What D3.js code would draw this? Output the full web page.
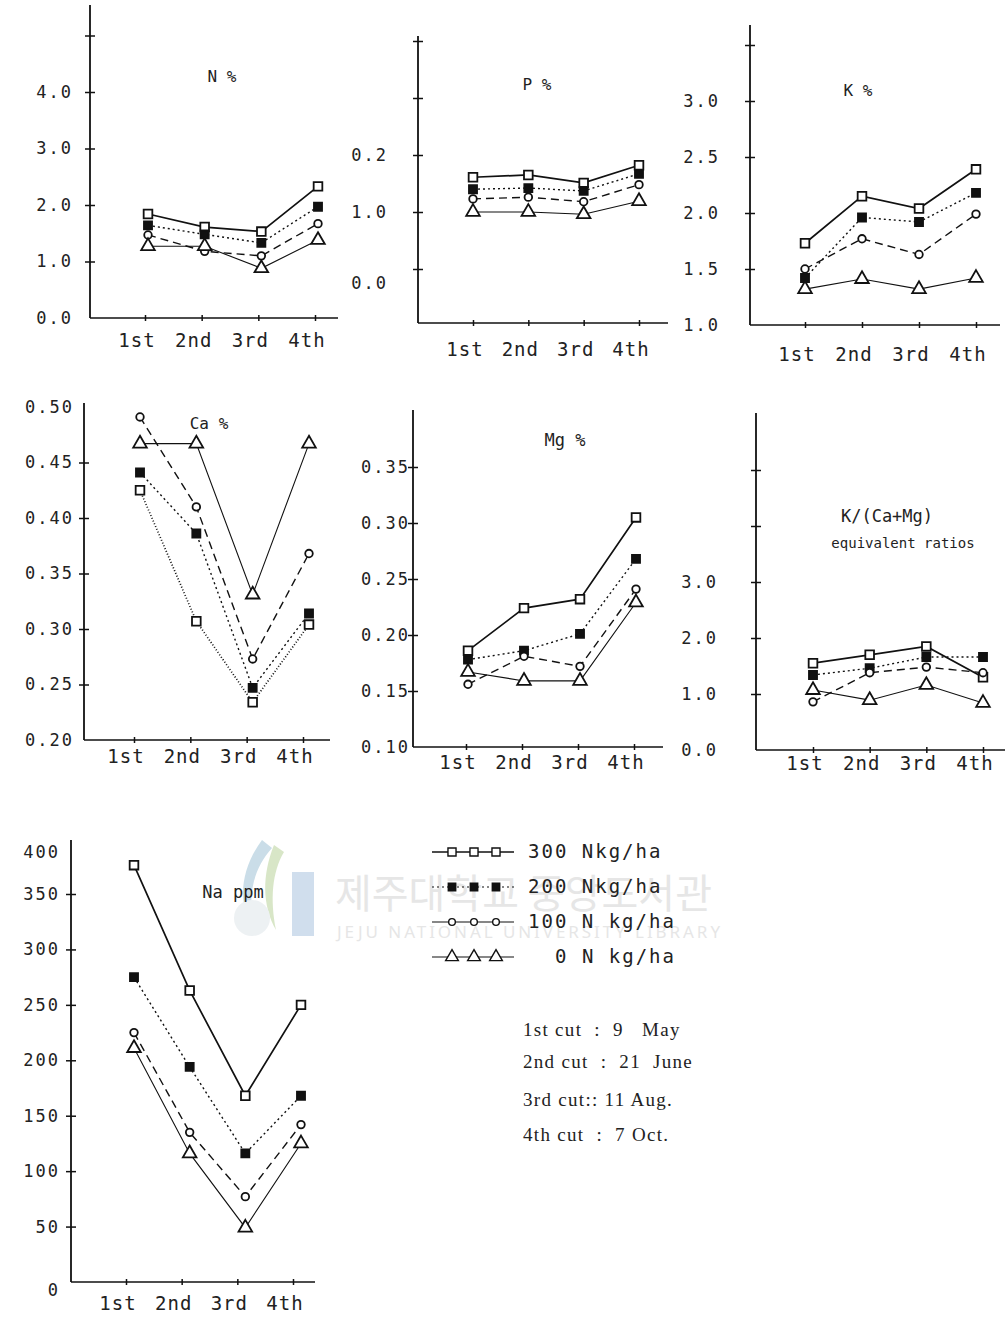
<!DOCTYPE html>
<html>
<head>
<meta charset="utf-8">
<script src="https://cdn.jsdelivr.net/npm/d3@7"></script>
<style>
  body { margin: 0; background: #fff; }
  svg text { white-space: pre; }
  .mono { font-family: "DejaVu Sans Mono", "Liberation Mono", monospace; fill: #222; }
  .serif { font-family: "Liberation Serif", "DejaVu Serif", serif; fill: #222; }
</style>
</head>
<body>
<script>
// harvest cuts and N rates
var cuts = ["1st", "2nd", "3rd", "4th"];
var rates = ["300 Nkg/ha", "200 Nkg/ha", "100 N kg/ha", "0 N kg/ha"];

// rows: 300, 200, 100, 0 N kg/ha
var nPct = [[1.84, 1.61, 1.53, 2.33], [1.64, 1.48, 1.33, 1.97], [1.47, 1.18, 1.10, 1.67], [1.27, 1.27, 0.88, 1.38]];
var pPct = [[0.161, 0.165, 0.151, 0.182], [0.140, 0.142, 0.137, 0.167], [0.123, 0.126, 0.118, 0.148], [0.100, 0.100, 0.096, 0.119]];
var kPct = [[1.73, 2.15, 2.04, 2.39], [1.42, 1.96, 1.92, 2.18], [1.50, 1.77, 1.63, 1.99], [1.32, 1.41, 1.32, 1.42]];
var caPct = [[0.425, 0.307, 0.234, 0.304], [0.441, 0.386, 0.247, 0.314], [0.491, 0.410, 0.273, 0.368], [0.467, 0.467, 0.331, 0.467]];
var mgPct = [[0.186, 0.224, 0.232, 0.305], [0.178, 0.186, 0.201, 0.268], [0.156, 0.181, 0.172, 0.241], [0.167, 0.159, 0.159, 0.229]];
var kRatio = [[1.55, 1.70, 1.85, 1.30], [1.34, 1.46, 1.66, 1.66], [0.86, 1.38, 1.48, 1.38], [1.07, 0.89, 1.16, 0.84]];
var naPpm = [[376, 263, 168, 250], [275, 194, 116, 168], [225, 135, 77, 142], [211, 116, 49, 125]];

// y tick marks and labels
var nTicks = [1, 2, 3, 4, 5], nLabels = ["0.0", "1.0", "2.0", "3.0", "4.0"], nLabelVals = [0, 1, 2, 3, 4];
var pTicks = [0, 0.1, 0.2, 0.3, 0.4], pLabels = ["0.0", "1.0", "0.2"], pLabelVals = [-0.025, 0.1, 0.2];
var kTicks = [1.5, 2, 2.5, 3, 3.5], kLabels = ["1.0", "1.5", "2.0", "2.5", "3.0"], kLabelVals = [1, 1.5, 2, 2.5, 3];
var caTicks = [0.25, 0.3, 0.35, 0.4, 0.45], caLabels = ["0.20", "0.25", "0.30", "0.35", "0.40", "0.45", "0.50"], caLabelVals = [0.2, 0.25, 0.3, 0.35, 0.4, 0.45, 0.5];
var mgTicks = [0.15, 0.2, 0.25, 0.3, 0.35], mgLabels = ["0.10", "0.15", "0.20", "0.25", "0.30", "0.35"], mgLabelVals = [0.1, 0.15, 0.2, 0.25, 0.3, 0.35];
var krTicks = [1, 2, 3, 4, 5], krLabels = ["0.0", "1.0", "2.0", "3.0"], krLabelVals = [0, 1, 2, 3];
var naTicks = [50, 100, 150, 200, 250, 300, 350], naLabels = ["0", "50", "100", "150", "200", "250", "300", "350", "400"], naLabelVals = [-7, 50, 100, 150, 200, 250, 300, 350, 388];

var dates = ["1st cut  :  9   May", "2nd cut  :  21  June", "3rd cut:: 11 Aug.", "4th cut  :  7 Oct."];

var width = 1005, height = 1318;

var svg = d3.select("body").append("svg")
    .attr("width", width)
    .attr("height", height);

// faint library watermark
var wm = svg.append("g").attr("opacity", 0.55);
wm.append("path")
    .attr("d", "M262,840 C240,870 236,905 256,935 C246,900 252,870 272,848 Z")
    .attr("fill", "#9fc3d6");
wm.append("path")
    .attr("d", "M274,845 C262,875 262,905 276,930 C270,900 272,872 284,852 Z")
    .attr("fill", "#b9d39a");
wm.append("rect").attr("x", 292).attr("y", 872).attr("width", 22).attr("height", 64).attr("fill", "#aac4df");
wm.append("circle").attr("cx", 252).attr("cy", 918).attr("r", 18).attr("fill", "#dfe6ea");
wm.append("text")
    .attr("x", 335).attr("y", 908)
    .attr("font-family", "Noto Sans CJK KR")
    .attr("font-size", 40)
    .attr("fill", "#d2d2d2")
    .text("제주대학교 중앙도서관");
wm.append("text")
    .attr("x", 337).attr("y", 938)
    .attr("font-family", "Noto Sans")
    .attr("font-size", 17)
    .attr("fill", "#d2d2d2")
    .attr("textLength", 383)
    .text("JEJU NATIONAL UNIVERSITY LIBRARY");

var dashes = ["none", "2,3", "8,5", "none"];
var widths = [1.7, 1.4, 1.4, 1.1];
var symbols = [d3.symbolSquare, d3.symbolSquare, d3.symbolCircle, d3.symbolTriangle];
var sizes = [75, 65, 45, 80];
var fills = ["#fff", "#111", "#fff", "#fff"];

function drawPanel(p) {
    var g = svg.append("g");

    var x = d3.scalePoint().domain(cuts).range([p.x1, p.x4]);
    var y = d3.scaleLinear().domain(p.dom).range(p.rng);

    // axes lines
    g.append("line")
        .attr("x1", p.ax).attr("x2", p.ax)
        .attr("y1", p.top).attr("y2", p.base)
        .attr("stroke", "#111").attr("stroke-width", 1.8);
    g.append("line")
        .attr("x1", p.ax).attr("x2", p.right)
        .attr("y1", p.base).attr("y2", p.base)
        .attr("stroke", "#111").attr("stroke-width", 1.5);

    // crossing ticks on y axis
    var ya = g.append("g")
        .attr("transform", "translate(" + p.ax + ",0)")
        .call(d3.axisLeft(y).tickValues(p.ticks).tickFormat("").tickSize(5));
    ya.select(".domain").remove();
    ya.selectAll("line").attr("x1", 5).attr("stroke", "#111").attr("stroke-width", 1.5);

    var xa = g.append("g")
        .attr("transform", "translate(0," + p.base + ")")
        .call(d3.axisBottom(x).tickFormat("").tickSize(3));
    xa.select(".domain").remove();
    xa.selectAll("line").attr("y1", -3).attr("stroke", "#111").attr("stroke-width", 1.5);

    // y labels
    g.selectAll(".ylab")
        .data(p.labels)
        .enter().append("text")
        .attr("class", "mono")
        .attr("x", p.lx)
        .attr("y", function(d, i) { return y(p.labelVals[i]); })
        .attr("dy", "0.35em")
        .attr("text-anchor", "end")
        .attr("font-size", 17)
        .attr("letter-spacing", 2)
        .text(function(d) { return d; });

    // x labels
    g.selectAll(".xlab")
        .data(cuts)
        .enter().append("text")
        .attr("class", "mono")
        .attr("x", function(d) { return x(d) - 8; })
        .attr("y", p.base + p.xdy)
        .attr("text-anchor", "middle")
        .attr("font-size", 19)
        .attr("letter-spacing", 1)
        .text(function(d) { return d; });

    // title
    p.title.forEach(function(t) {
        g.append("text")
            .attr("class", "mono")
            .attr("x", t[1]).attr("y", t[2])
            .attr("font-size", t[3])
            .attr("text-anchor", "middle")
            .text(t[0]);
    });

    var line = d3.line()
        .x(function(d, i) { return x(cuts[i]) + p.mx; })
        .y(function(d) { return y(d); });

    var ds = p.dash || dashes;
    p.data.forEach(function(vals, s) {
        g.append("path")
            .datum(vals)
            .attr("d", line)
            .attr("fill", "none")
            .attr("stroke", "#111")
            .attr("stroke-width", widths[s])
            .attr("stroke-dasharray", ds[s]);
    });
    p.data.forEach(function(vals, s) {
        g.selectAll(".m" + s)
            .data(vals)
            .enter().append("path")
            .attr("transform", function(d, i) {
                return "translate(" + (x(cuts[i]) + p.mx) + "," + y(d) + ")";
            })
            .attr("d", d3.symbol().type(symbols[s]).size(sizes[s]))
            .attr("fill", fills[s])
            .attr("stroke", "#111")
            .attr("stroke-width", 1.8);
    });
}

drawPanel({ data: nPct, ticks: nTicks, labels: nLabels, labelVals: nLabelVals,
    dom: [0, 4], rng: [318, 92], ax: 90, top: 5, base: 318, right: 338,
    x1: 145, x4: 315, mx: 3, lx: 73, xdy: 29, title: [["N %", 222, 82, 16]] });

drawPanel({ data: pPct, ticks: pTicks, labels: pLabels, labelVals: pLabelVals,
    dom: [0, 0.2], rng: [269, 155], ax: 418, top: 36, base: 323, right: 668,
    x1: 473, x4: 639, mx: 0, lx: 388, xdy: 33, title: [["P %", 537, 90, 16]] });

drawPanel({ data: kPct, ticks: kTicks, labels: kLabels, labelVals: kLabelVals,
    dom: [1, 3], rng: [325, 101], ax: 750, top: 25, base: 325, right: 1000,
    x1: 805, x4: 976, mx: 0, lx: 720, xdy: 36, title: [["K %", 858, 96, 16]] });

drawPanel({ data: caPct, ticks: caTicks, labels: caLabels, labelVals: caLabelVals,
    dom: [0.2, 0.5], rng: [740, 407], ax: 84, top: 403, base: 740, right: 330,
    x1: 134, x4: 303, mx: 6, lx: 74, xdy: 23, dash: ["1,2", "2,3", "8,5", "none"],
    title: [["Ca %", 209, 429, 16]] });

drawPanel({ data: mgPct, ticks: mgTicks, labels: mgLabels, labelVals: mgLabelVals,
    dom: [0.1, 0.35], rng: [747, 467], ax: 413, top: 410, base: 747, right: 663,
    x1: 466, x4: 634, mx: 2, lx: 410, xdy: 22, title: [["Mg %", 565, 446, 17]] });

drawPanel({ data: kRatio, ticks: krTicks, labels: krLabels, labelVals: krLabelVals,
    dom: [0, 3], rng: [750, 582], ax: 756, top: 413, base: 750, right: 1005,
    x1: 813, x4: 983, mx: 0, lx: 718, xdy: 20,
    title: [["K/(Ca+Mg)", 887, 522, 17], ["equivalent ratios", 903, 548, 14]] });

drawPanel({ data: naPpm, ticks: naTicks, labels: naLabels, labelVals: naLabelVals,
    dom: [0, 350], rng: [1282, 894], ax: 71, top: 840, base: 1282, right: 315,
    x1: 126, x4: 293, mx: 8, lx: 60, xdy: 28, title: [["Na ppm", 233, 898, 17]] });

// legend
var lg = svg.append("g");
rates.forEach(function(r, s) {
    var ly = 852 + s * 35;
    lg.append("line")
        .attr("x1", 432).attr("x2", 514)
        .attr("y1", ly).attr("y2", ly)
        .attr("stroke", "#111")
        .attr("stroke-width", s === 0 ? 1.7 : 1.2)
        .attr("stroke-dasharray", s === 1 ? "2,3" : "none");
    [452, 474, 496].forEach(function(mx) {
        lg.append("path")
            .attr("transform", "translate(" + mx + "," + ly + ")")
            .attr("d", d3.symbol().type(symbols[s]).size(sizes[s] - 10))
            .attr("fill", fills[s])
            .attr("stroke", "#111")
            .attr("stroke-width", 1.4);
    });
    lg.append("text")
        .attr("class", "mono")
        .attr("x", s === 3 ? 555 : 528)
        .attr("y", ly + 6)
        .attr("font-size", 19)
        .attr("letter-spacing", 2)
        .text(r);
});

// cutting dates
var dy = [1036, 1068, 1106, 1141];
dates.forEach(function(t, i) {
    svg.append("text")
        .attr("class", "serif")
        .attr("x", 523)
        .attr("y", dy[i])
        .attr("font-size", 19)
        .attr("letter-spacing", 1.3)
        .text(t);
});
</script>
</body>
</html>
